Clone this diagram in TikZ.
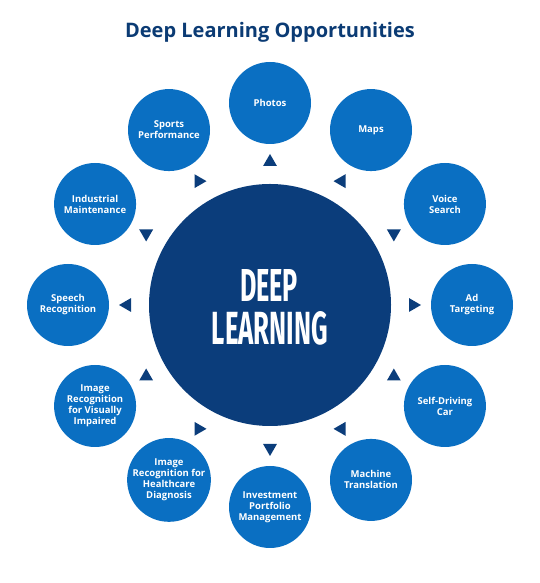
\documentclass[tikz,border=0pt]{standalone}
\usepackage{fontspec}
\setmainfont{Open Sans}
\newfontfamily\condfont{Fira Sans}
\usepackage{graphicx}
\usetikzlibrary{shapes.geometric,calc}
\definecolor{navy}{HTML}{0B3D7B}
\definecolor{bub}{HTML}{0A6FC2}
\definecolor{titlec}{HTML}{0B3B74}
\begin{document}
\begin{tikzpicture}[x=1pt,y=1pt,
  bubble/.style={circle, fill=bub, minimum size=82pt, inner sep=0pt, text=white,
    font=\bfseries\fontsize{9.5}{11}\selectfont, align=center},
  hub/.style={circle, fill=navy, minimum size=242pt, inner sep=0pt},
  tri/.style={regular polygon, regular polygon sides=3, fill=navy, minimum size=16pt, inner sep=0pt},
  hubtext/.style={anchor=base, inner sep=0pt, text=white}]
\useasboundingbox (0,0) rectangle (540,583);
\coordinate (C) at (270,278);
\node[anchor=base, inner sep=0pt, text=titlec, font=\bfseries\fontsize{20}{24}\selectfont] (title) at (270,545) {Deep Learning Opportunities};
\node[hub] (hub) at (C) {};
\node[hubtext] (deep) at (269,281) {\resizebox{58pt}{32pt}{\condfont\bfseries DEEP}};
\node[hubtext] (learning) at (270,238) {\resizebox{116pt}{33pt}{\condfont\bfseries LEARNING}};
\foreach \a/\n/\t/\r in {
  90/photos/{Photos}/0,
  60/maps/{Maps}/90,
  30/voice/{Voice\\Search}/180,
  0/ad/{Ad\\Targeting}/270,
  -30/car/{Self-Driving\\Car}/0,
  -60/mt/{Machine\\Translation}/90,
  -90/invest/{Investment\\Portfolio\\Management}/180,
  -120/health/{Image\\Recognition for\\Healthcare\\Diagnosis}/270,
  -150/visual/{Image\\Recognition\\for Visually\\Impaired}/0,
  180/speech/{Speech\\Recognition}/90,
  150/indus/{Industrial\\Maintenance}/180,
  120/sports/{Sports\\Performance}/270}{
  \node[bubble] (\n) at ($(C)+(\a:202)$) {\t};
  \node[tri, shape border rotate=\r] (t\n) at ($(C)+(\a:143)$) {};
}
\end{tikzpicture}
\end{document}
